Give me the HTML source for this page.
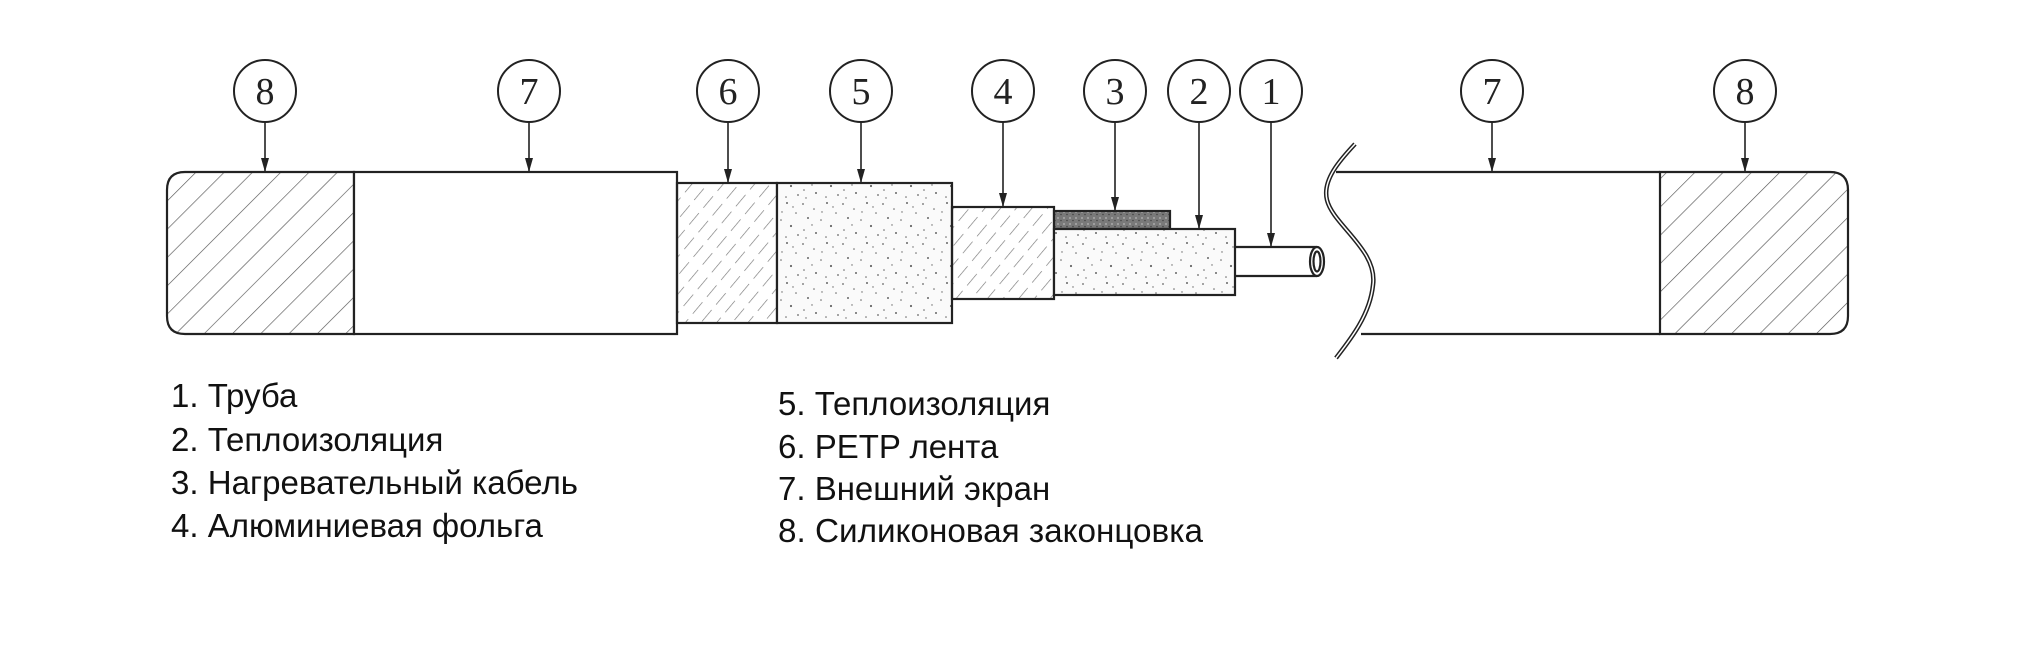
<!DOCTYPE html>
<html><head><meta charset="utf-8"><style>html,body{margin:0;padding:0;background:#fff;}svg{display:block}</style></head>
<body>
<svg width="2033" height="645" viewBox="0 0 2033 645" xmlns="http://www.w3.org/2000/svg">
<defs>
<pattern id="hatch" patternUnits="userSpaceOnUse" width="20" height="20" patternTransform="rotate(45)">
<line x1="0" y1="0" x2="0" y2="20" stroke="#555" stroke-width="1.3"/>
</pattern>
<pattern id="dhatch" patternUnits="userSpaceOnUse" width="12" height="22" patternTransform="rotate(40)">
<line x1="0" y1="0" x2="0" y2="15" stroke="#777" stroke-width="1.3"/>
</pattern>
<pattern id="stip" patternUnits="userSpaceOnUse" width="40" height="40">
<rect width="40" height="40" fill="#fafafa"/>
<g fill="#666">
<circle cx="3" cy="4" r="0.9"/><circle cx="14" cy="9" r="0.8"/><circle cx="27" cy="3" r="1"/><circle cx="36" cy="13" r="0.8"/>
<circle cx="8" cy="18" r="1"/><circle cx="21" cy="20" r="0.8"/><circle cx="31" cy="26" r="1.1"/><circle cx="4" cy="30" r="0.8"/>
<circle cx="16" cy="33" r="1"/><circle cx="26" cy="37" r="0.8"/><circle cx="38" cy="35" r="0.9"/><circle cx="12" cy="25" r="0.7"/>
<circle cx="33" cy="7" r="0.7"/><circle cx="22" cy="12" r="0.7"/><circle cx="6" cy="38" r="0.7"/>
</g>
</pattern>
<pattern id="dark" patternUnits="userSpaceOnUse" width="6" height="6">
<rect width="6" height="6" fill="#7a7a7a"/><circle cx="2" cy="2" r="1" fill="#aaa"/><circle cx="5" cy="4.5" r="0.8" fill="#444"/>
</pattern>
</defs>

<g stroke="#222" stroke-width="2.2" fill="none">
<path d="M354,172 H185 Q167,172 167,190 V316 Q167,334 185,334 H354 Z" fill="url(#hatch)"/>
<rect x="354" y="172" width="323" height="162" fill="#fff"/>
<rect x="677" y="183" width="100" height="140" fill="url(#dhatch)"/>
<rect x="777" y="183" width="175" height="140" fill="url(#stip)"/>
<rect x="952" y="207" width="102" height="92" fill="url(#dhatch)"/>
<rect x="1054" y="211" width="116" height="18" fill="url(#dark)"/>
<rect x="1054" y="229" width="181" height="66" fill="url(#stip)"/>
<path d="M1235,247 H1317 M1235,276 H1317" />
<ellipse cx="1317" cy="261.5" rx="7" ry="14.5" fill="#fff"/>
<ellipse cx="1317" cy="261.5" rx="3.5" ry="10" />
<path d="M1336,172 H1660 M1361,334 H1660"/>
<path d="M1660,172 H1830 Q1848,172 1848,190 V316 Q1848,334 1830,334 H1660 Z" fill="url(#hatch)"/>
<path d="M1355,144 C1340,160 1322,180 1327,200 C1333,225 1378,250 1373,285 C1370,315 1350,340 1336,358" stroke-width="4.5"/>
<path d="M1355,144 C1340,160 1322,180 1327,200 C1333,225 1378,250 1373,285 C1370,315 1350,340 1336,358" stroke="#fff" stroke-width="1.5"/>
</g>

<g stroke="#222" stroke-width="2" fill="#fff">
<circle cx="265" cy="91" r="31"/><circle cx="529" cy="91" r="31"/><circle cx="728" cy="91" r="31"/>
<circle cx="861" cy="91" r="31"/><circle cx="1003" cy="91" r="31"/><circle cx="1115" cy="91" r="31"/>
<circle cx="1199" cy="91" r="31"/><circle cx="1271" cy="91" r="31"/><circle cx="1492" cy="91" r="31"/>
<circle cx="1745" cy="91" r="31"/>
</g>
<g stroke="#222" stroke-width="1.6">
<line x1="265" y1="122" x2="265" y2="171"/><line x1="529" y1="122" x2="529" y2="171"/>
<line x1="728" y1="122" x2="728" y2="182"/><line x1="861" y1="122" x2="861" y2="182"/>
<line x1="1003" y1="122" x2="1003" y2="206"/><line x1="1115" y1="122" x2="1115" y2="210"/>
<line x1="1199" y1="122" x2="1199" y2="228"/><line x1="1271" y1="122" x2="1271" y2="246"/>
<line x1="1492" y1="122" x2="1492" y2="171"/><line x1="1745" y1="122" x2="1745" y2="171"/>
</g>
<g fill="#222">
<path d="M261,158 L269,158 L265,172 Z"/><path d="M525,158 L533,158 L529,172 Z"/>
<path d="M724,169 L732,169 L728,183 Z"/><path d="M857,169 L865,169 L861,183 Z"/>
<path d="M999,193 L1007,193 L1003,207 Z"/><path d="M1111,197 L1119,197 L1115,211 Z"/>
<path d="M1195,215 L1203,215 L1199,229 Z"/><path d="M1267,233 L1275,233 L1271,247 Z"/>
<path d="M1488,158 L1496,158 L1492,172 Z"/><path d="M1741,158 L1749,158 L1745,172 Z"/>
</g>
<g font-family="'Liberation Serif', serif" font-size="38" fill="#222" text-anchor="middle">
<text x="265" y="104">8</text><text x="529" y="104">7</text><text x="728" y="104">6</text>
<text x="861" y="104">5</text><text x="1003" y="104">4</text><text x="1115" y="104">3</text>
<text x="1199" y="104">2</text><text x="1271" y="104">1</text><text x="1492" y="104">7</text>
<text x="1745" y="104">8</text>
</g>
<g font-family="'Liberation Sans', sans-serif" font-size="33" fill="#111">
<text x="171" y="407">1. Труба</text>
<text x="171" y="451">2. Теплоизоляция</text>
<text x="171" y="494" textLength="407" lengthAdjust="spacingAndGlyphs">3. Нагревательный кабель</text>
<text x="171" y="537">4. Алюминиевая фольга</text>
<text x="778" y="415">5. Теплоизоляция</text>
<text x="778" y="458">6. PETP лента</text>
<text x="778" y="500">7. Внешний экран</text>
<text x="778" y="542" textLength="425" lengthAdjust="spacingAndGlyphs">8. Силиконовая законцовка</text>
</g>
</svg>
</body></html>
